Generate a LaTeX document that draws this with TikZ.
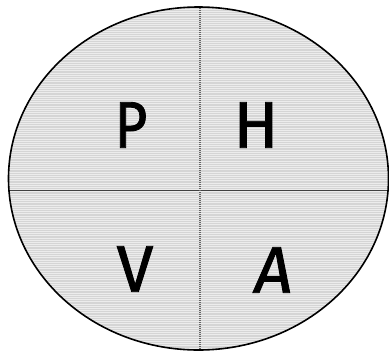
\documentclass[tikz,border=0pt]{standalone}
\usepackage{fontspec}
\setmainfont{Fira Sans}
\newfontfamily\letfont[FakeBold=1.3]{Fira Sans}
\begin{document}
\begin{tikzpicture}[x=1pt,y=-1pt,
  letter/.style={font=\letfont\fontsize{66}{66}\selectfont, text=black, inner sep=0pt},
  rim/.style={draw=black, line width=1.6pt}]
\useasboundingbox (0,0) rectangle (389,354);
\fill[white] (0,0) rectangle (389,354);
\coordinate (c) at (198.5,178.5);
\begin{scope}
  \clip (c) ellipse [x radius=190, y radius=171.5];
  \fill[gray!33] (0,0) rectangle (389,354);
  \foreach \yy in {7,9.2,...,352} {
    \draw[white!85!gray, line width=0.7pt] (0,\yy) -- (389,\yy);
  }
  \coordinate (vt) at (200,0);
  \coordinate (vb) at (200,354);
  \coordinate (hl) at (0,190);
  \coordinate (hr) at (389,190);
  \draw[black!75, line width=0.8pt] (hl) -- (hr);
  \draw[black!60, line width=1.2pt, dash pattern=on 1.2pt off 0.8pt] (vt) -- (vb);
\end{scope}
\draw[rim] (c) ellipse [x radius=190, y radius=171.5];
\node[letter, xscale=0.85] (P) at (131,125) {P};
\node[letter] (H) at (256,125) {H};
\node[letter] (V) at (135,269) {V};
\node[letter, xslant=0.12] (A) at (274,270) {A};
\end{tikzpicture}
\end{document}
